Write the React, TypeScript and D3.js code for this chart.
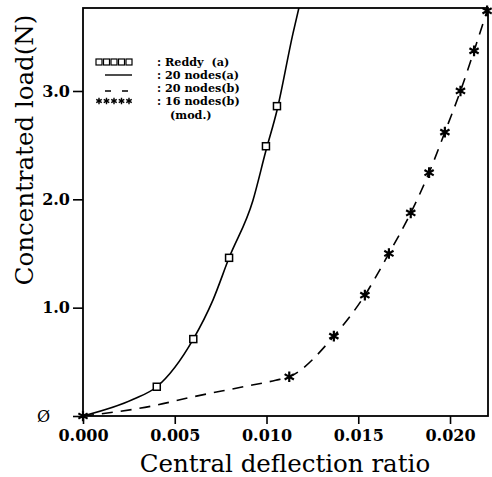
import React, { useEffect, useRef } from "react";
import * as d3 from "d3";

// Reddy (a) - open squares
const reddyX = [0.00402, 0.00601, 0.00796, 0.00997, 0.01057];
const reddyY = [0.27, 0.71, 1.46, 2.49, 2.86];

// 20 nodes(a) - solid line
const nodesAX = [0, 0.00274, 0.00402, 0.00601, 0.00708, 0.00796, 0.00926, 0.00997, 0.01057, 0.01144, 0.01177];
const nodesAY = [0, 0.154, 0.27, 0.71, 1.07, 1.46, 1.99, 2.45, 2.82, 3.53, 3.77];

// 20 nodes(b) - dashed line
const nodesBX = [0, 0.0040, 0.0058, 0.0086, 0.0105, 0.01124, 0.01367, 0.01536, 0.01667, 0.01786, 0.01886, 0.01972, 0.02057, 0.02131, 0.02202];
const nodesBY = [0, 0.10, 0.17, 0.265, 0.33, 0.362, 0.737, 1.115, 1.50, 1.874, 2.246, 2.62, 3.00, 3.37, 3.74];

// 16 nodes(b) (mod.) - stars
const starX = [0, 0.01124, 0.01367, 0.01536, 0.01667, 0.01786, 0.01886, 0.01972, 0.02057, 0.02131, 0.02202];
const starY = [0, 0.362, 0.737, 1.115, 1.50, 1.874, 2.246, 2.62, 3.00, 3.37, 3.74];

const xTicks = [0, 0.005, 0.01, 0.015, 0.02];
const xTickLabels = ["0.000", "0.005", "0.010", "0.015", "0.020"];
const yTicks = [0, 1, 2, 3];
const yTickLabels = ["Ø", "1.0", "2.0", "3.0"];

const legendLabels = [": Reddy  (a)", ": 20 nodes(a)", ": 20 nodes(b)", ": 16 nodes(b)", "(mod.)"];

const W = 492, H = 477;

export default function App() {
  const ref = useRef<SVGSVGElement>(null);

  useEffect(() => {
    const svg = d3.select(ref.current);
    svg.selectAll("*").remove();

    const left = 83, right = 488, top = 8, bottom = 416;
    const x = d3.scaleLinear().domain([0, 0.02207]).range([left, right]);
    const y = d3.scaleLinear().domain([0, 3.766]).range([bottom, top]);

    const font = "'DejaVu Serif', serif";

    svg.append("defs").append("clipPath").attr("id", "plotclip")
      .append("rect").attr("x", left).attr("y", top).attr("width", right - left).attr("height", bottom - top);

    // x axis
    const xAxis = svg.append("g")
      .attr("transform", `translate(0,${bottom})`)
      .call(d3.axisBottom(x).tickValues(xTicks).tickSize(8).tickPadding(6)
        .tickFormat((d, i) => xTickLabels[i]));
    xAxis.select(".domain").remove();
    xAxis.selectAll("line").attr("stroke", "#000").attr("stroke-width", 1.6);
    xAxis.selectAll("text").attr("font-family", font).attr("font-weight", "bold")
      .attr("font-size", 16).attr("fill", "#000");

    // y axis
    const yAxis = svg.append("g")
      .attr("transform", `translate(${left},0)`)
      .call(d3.axisLeft(y).tickValues(yTicks).tickSize(10).tickPadding(3)
        .tickFormat((d, i) => yTickLabels[i]));
    yAxis.select(".domain").remove();
    yAxis.selectAll("line").attr("stroke", "#000").attr("stroke-width", 1.6);
    yAxis.selectAll("text").attr("font-family", font).attr("font-weight", "bold")
      .attr("font-size", 16).attr("fill", "#000");
    yAxis.selectAll<SVGTextElement, number>("text").filter((d) => d === 0)
      .attr("x", -33).attr("font-weight", "normal");

    // frame
    svg.append("rect").attr("x", left).attr("y", top)
      .attr("width", right - left).attr("height", bottom - top)
      .attr("fill", "none").attr("stroke", "#000").attr("stroke-width", 1.8);

    const plot = svg.append("g").attr("clip-path", "url(#plotclip)");

    const line = d3.line<[number, number]>().x((d) => x(d[0])).y((d) => y(d[1])).curve(d3.curveMonotoneX);

    plot.append("path")
      .datum(nodesAX.map((v, i) => [v, nodesAY[i]] as [number, number]))
      .attr("d", line).attr("fill", "none").attr("stroke", "#000").attr("stroke-width", 1.6);

    plot.append("path")
      .datum(nodesBX.map((v, i) => [v, nodesBY[i]] as [number, number]))
      .attr("d", line).attr("fill", "none").attr("stroke", "#000").attr("stroke-width", 1.6)
      .attr("stroke-dasharray", "11,8");

    svg.append("g").selectAll("rect").data(reddyX).join("rect")
      .attr("x", (d) => x(d) - 3.5).attr("y", (d, i) => y(reddyY[i]) - 3.5)
      .attr("width", 7).attr("height", 7)
      .attr("fill", "#fff").attr("stroke", "#000").attr("stroke-width", 1.5);

    const star = d3.symbol().type(d3.symbolAsterisk).size(80);
    svg.append("g").selectAll("path").data(starX).join("path")
      .attr("transform", (d, i) => `translate(${x(d)},${y(starY[i])})`)
      .attr("d", star).attr("fill", "none").attr("stroke", "#000").attr("stroke-width", 2.2);

    // legend
    const lg = svg.append("g");
    const rowY = [62, 75, 88, 101, 115];
    const legendFont = 11.2;
    const sq = d3.range(5);
    lg.selectAll("rect").data(sq).join("rect")
      .attr("x", (d) => 96 + d * 7.5).attr("y", rowY[0] - 3)
      .attr("width", 6).attr("height", 6)
      .attr("fill", "none").attr("stroke", "#000").attr("stroke-width", 1.2);
    lg.append("line").attr("x1", 105).attr("x2", 132).attr("y1", rowY[1]).attr("y2", rowY[1])
      .attr("stroke", "#000").attr("stroke-width", 1.4);
    lg.append("line").attr("x1", 105).attr("x2", 130).attr("y1", rowY[2] + 3).attr("y2", rowY[2] + 3)
      .attr("stroke", "#000").attr("stroke-width", 1.4).attr("stroke-dasharray", "6,11");
    const starRow = d3.symbol().type(d3.symbolAsterisk).size(28);
    lg.selectAll("path.ls").data(sq).join("path").attr("class", "ls")
      .attr("transform", (d) => `translate(${99 + d * 7.5},${rowY[3]})`)
      .attr("d", starRow).attr("fill", "none").attr("stroke", "#000").attr("stroke-width", 1.4);
    lg.selectAll("text.lab").data(legendLabels).join("text").attr("class", "lab")
      .attr("x", (d, i) => (i === 4 ? 170 : 157)).attr("y", (d, i) => rowY[i] + 4)
      .style("white-space", "pre")
      .text((d) => d)
      .attr("font-family", font).attr("font-weight", "bold").attr("font-size", legendFont);

    // axis titles
    svg.append("text").attr("x", 285).attr("y", 472).attr("text-anchor", "middle")
      .attr("font-family", font).attr("font-size", 24.5).attr("fill", "#000")
      .text("Central deflection ratio");
    svg.append("text").attr("transform", "translate(33,150) rotate(-90)").attr("text-anchor", "middle")
      .attr("font-family", font).attr("font-size", 24.5).attr("fill", "#000")
      .text("Concentrated load(N)");
  }, []);

  return (
    <svg ref={ref} width={W} height={H}
      style={{ position: "absolute", left: 0, top: 0, background: "#fff", display: "block" }} />
  );
}
